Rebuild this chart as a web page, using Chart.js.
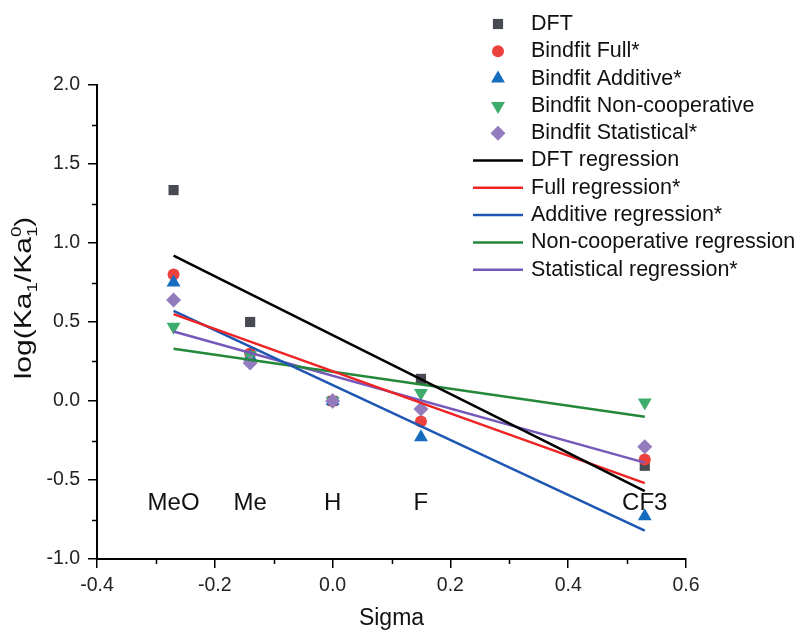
<!DOCTYPE html>
<html>
<head>
<meta charset="utf-8">
<script src="https://cdn.jsdelivr.net/npm/chart.js@4.4.1/dist/chart.umd.min.js"></script>
<style>
  body { margin: 0; background: #fff; }
  #wrap { width: 804px; height: 632px; }
</style>
</head>
<body>
<div id="wrap"><canvas id="sigmaChart"></canvas></div>
<script>
// valeurs
const substituents = ['MeO', 'Me', 'H', 'F', 'CF3'];
const sigma = [-0.27, -0.14, 0.0, 0.15, 0.53];

const dft = [1.335, 0.50, 0.0, 0.14, -0.41];
const bindfitFull = [0.80, 0.30, 0.0, -0.13, -0.37];
const bindfitAdditive = [0.75, 0.28, 0.0, -0.23, -0.73];
const bindfitNonCoop = [0.47, 0.29, 0.0, 0.05, -0.01];
const bindfitStatistical = [0.64, 0.24, 0.0, -0.05, -0.29];

// droites de regression (extremites lues a sigma = -0.27 et 0.53)
const regSigma = [-0.27, 0.53];
const dftReg = [0.92, -0.57];
const fullReg = [0.55, -0.52];
const additiveReg = [0.57, -0.82];
const nonCoopReg = [0.33, -0.10];
const statisticalReg = [0.44, -0.39];

const xTicks = [-0.4, -0.2, 0.0, 0.2, 0.4, 0.6];
const xMinorTicks = [-0.3, -0.1, 0.1, 0.3, 0.5];
const yTicks = [-1.0, -0.5, 0.0, 0.5, 1.0, 1.5, 2.0];
const yMinorTicks = [-0.75, -0.25, 0.25, 0.75, 1.25, 1.75];
const labelLevel = -0.645;

const FONT = '"Liberation Sans", Arial, sans-serif';

function pts(xs, ys) {
    return xs.map((x, i) => ({ x: x, y: ys[i] }));
}

function markerSet(label, ys, style, color, radius, order, rotation) {
    return {
        label: label,
        data: pts(sigma, ys),
        showLine: false,
        pointStyle: style,
        pointRadius: radius,
        pointRotation: rotation || 0,
        backgroundColor: color,
        borderColor: color,
        borderWidth: 0,
        order: order
    };
}

function lineSet(label, ys, color) {
    return {
        label: label,
        data: pts(regSigma, ys),
        showLine: true,
        pointRadius: 0,
        borderColor: color,
        backgroundColor: color,
        borderWidth: 2.5,
        fill: false,
        order: 0
    };
}

const datasets = [
    markerSet('DFT', dft, 'rect', 'rgb(72,76,82)', 7.2, 5),
    markerSet('Bindfit Full*', bindfitFull, 'circle', 'rgb(236,66,62)', 6, 4),
    markerSet('Bindfit Additive*', bindfitAdditive, 'triangle', 'rgb(22,108,190)', 8, 3),
    markerSet('Bindfit Non-cooperative', bindfitNonCoop, 'triangle', 'rgb(62,172,108)', 8, 2, 180),
    markerSet('Bindfit Statistical*', bindfitStatistical, 'rectRot', 'rgb(146,124,190)', 7.5, 1),
    lineSet('DFT regression', dftReg, 'rgb(0,0,0)'),
    lineSet('Full regression*', fullReg, 'rgb(238,36,36)'),
    lineSet('Additive regression*', additiveReg, 'rgb(30,86,180)'),
    lineSet('Non-cooperative regression', nonCoopReg, 'rgb(36,136,58)'),
    lineSet('Statistical regression*', statisticalReg, 'rgb(118,88,186)')
];

// petites graduations, noms des substituants, titre Y et legende
const extrasPlugin = {
    id: 'extras',
    afterDraw(chart) {
        const ctx = chart.ctx;
        const xs = chart.scales.x;
        const ys = chart.scales.y;
        const area = chart.chartArea;
        ctx.save();

        // graduations mineures
        ctx.strokeStyle = '#000';
        ctx.lineWidth = 1.5;
        ctx.beginPath();
        xMinorTicks.forEach(v => {
            const px = Math.round(xs.getPixelForValue(v)) + 0.5;
            ctx.moveTo(px, area.bottom);
            ctx.lineTo(px, area.bottom + 5);
        });
        yMinorTicks.forEach(v => {
            const py = Math.round(ys.getPixelForValue(v)) + 0.5;
            ctx.moveTo(area.left, py);
            ctx.lineTo(area.left - 5, py);
        });
        ctx.stroke();

        // noms des substituants
        ctx.fillStyle = '#111';
        ctx.font = '24px ' + FONT;
        ctx.textAlign = 'center';
        ctx.textBaseline = 'middle';
        substituents.forEach((s, i) => {
            ctx.fillText(s, xs.getPixelForValue(sigma[i]), ys.getPixelForValue(labelLevel));
        });

        // titre de l'axe Y : log(Ka1/Ka1^0)
        const big = '24px ' + FONT;
        const small = '15px ' + FONT;
        const parts = [
            { t: 'log(Ka', f: big, dy: 0 },
            { t: '1', f: small, dy: 6 },
            { t: '/Ka', f: big, dy: 0 },
            { t: '1', f: small, dy: 6, stackWith: '0' },
            { t: ')', f: big, dy: 0 }
        ];
        let total = 0;
        parts.forEach(p => { ctx.font = p.f; p.w = ctx.measureText(p.t).width; total += p.w; });
        ctx.translate(31, 298);
        ctx.rotate(-Math.PI / 2);
        ctx.scale(1.25, 1);
        ctx.textAlign = 'left';
        ctx.textBaseline = 'alphabetic';
        let cx = -total / 2;
        parts.forEach(p => {
            ctx.font = p.f;
            ctx.fillText(p.t, cx, p.dy);
            if (p.stackWith) ctx.fillText(p.stackWith, cx, -10);
            cx += p.w;
        });
        ctx.restore();

        // legende
        ctx.save();
        ctx.font = '21.5px ' + FONT;
        ctx.textAlign = 'left';
        ctx.textBaseline = 'middle';
        chart.data.datasets.forEach((ds, i) => {
            const y = 24 + i * 27.3;
            const mx = 498;
            ctx.fillStyle = ds.backgroundColor;
            ctx.strokeStyle = ds.borderColor;
            if (ds.showLine) {
                ctx.lineWidth = ds.borderWidth;
                ctx.beginPath();
                ctx.moveTo(473, y);
                ctx.lineTo(523, y);
                ctx.stroke();
            } else {
                ctx.beginPath();
                const r = ds.pointRadius;
                if (ds.pointStyle === 'rect') {
                    const h = r * Math.SQRT1_2;
                    ctx.rect(mx - h, y - h, 2 * h, 2 * h);
                } else if (ds.pointStyle === 'circle') {
                    ctx.arc(mx, y, r, 0, Math.PI * 2);
                } else if (ds.pointStyle === 'triangle') {
                    const s = ds.pointRotation === 180 ? -1 : 1;
                    ctx.moveTo(mx, y - s * r);
                    ctx.lineTo(mx - r * 0.866, y + s * r * 0.5);
                    ctx.lineTo(mx + r * 0.866, y + s * r * 0.5);
                    ctx.closePath();
                } else {
                    ctx.moveTo(mx, y - r);
                    ctx.lineTo(mx + r, y);
                    ctx.lineTo(mx, y + r);
                    ctx.lineTo(mx - r, y);
                    ctx.closePath();
                }
                ctx.fill();
            }
            ctx.fillStyle = '#111';
            ctx.fillText(ds.label, 531, y);
        });
        ctx.restore();
    }
};

const ctx = document.getElementById('sigmaChart').getContext('2d');
const sigmaChart = new Chart(ctx, {
    type: 'scatter',
    data: { datasets: datasets },
    options: {
        responsive: true,
        maintainAspectRatio: false,
        animation: false,
        layout: { padding: { top: 85, right: 118, left: 0, bottom: 0 } },
        plugins: {
            legend: { display: false },
            tooltip: { enabled: false }
        },
        scales: {
            x: {
                type: 'linear',
                min: -0.4,
                max: 0.6,
                afterFit: (s) => { s.height = 73; },
                afterBuildTicks: (s) => { s.ticks = xTicks.map(v => ({ value: v })); },
                grid: { drawOnChartArea: false, tickLength: 9, color: '#000', lineWidth: 1.5 },
                border: { display: true, color: '#000', width: 2 },
                ticks: {
                    color: '#222',
                    padding: 6,
                    font: { family: FONT, size: 19.5 },
                    callback: (v) => Number(v).toFixed(1)
                },
                title: {
                    display: true,
                    text: 'Sigma',
                    color: '#111',
                    padding: { top: 6, bottom: 0 },
                    font: { family: FONT, size: 23 }
                }
            },
            y: {
                type: 'linear',
                min: -1.0,
                max: 2.0,
                afterFit: (s) => { s.width = 97; },
                afterBuildTicks: (s) => { s.ticks = yTicks.map(v => ({ value: v })); },
                grid: { drawOnChartArea: false, tickLength: 9, color: '#000', lineWidth: 1.5 },
                border: { display: true, color: '#000', width: 2 },
                ticks: {
                    color: '#222',
                    padding: 8,
                    font: { family: FONT, size: 19.5 },
                    callback: (v) => Number(v).toFixed(1)
                }
            }
        }
    },
    plugins: [extrasPlugin]
});
</script>
</body>
</html>
